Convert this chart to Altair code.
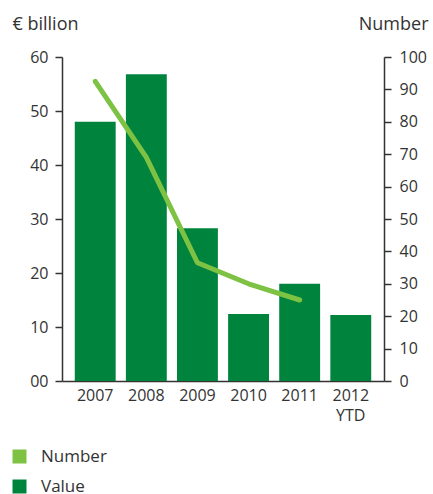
import altair as alt
import pandas as pd

years = ["2007", "2008", "2009", "2010", "2011", "2012 YTD"]
value_bn = [48.0, 56.8, 28.3, 12.4, 18.0, 12.2]
number = [92.5, 69.0, 36.5, 30.0, 25.0, None]

df = pd.DataFrame({"year": years, "value": value_bn, "number": number})
df["series"] = "Value"

DARK = "#00833D"
LIGHT = "#7DC243"
TXT = "#333333"
FONT = "Open Sans"

x_enc = alt.X(
    "year:N",
    sort=years,
    title=None,
    scale=alt.Scale(paddingInner=0.2, paddingOuter=0.25),
    axis=alt.Axis(
        labelAngle=0,
        labelExpr="split(datum.label, ' ')",
        ticks=False,
        domainColor=TXT,
        domainWidth=1.5,
        labelPadding=6,
        labelFontSize=16,
        labelLineHeight=20,
        labelColor=TXT,
        labelFont=FONT,
    ),
)

bars = alt.Chart(df).mark_bar(color=DARK).encode(
    x=x_enc,
    y=alt.Y(
        "value:Q",
        scale=alt.Scale(domain=[0, 60], nice=False),
        axis=alt.Axis(
            values=[0, 10, 20, 30, 40, 50, 60],
            labelExpr="datum.value == 0 ? '00' : datum.label",
            title="€ billion",
            titleAngle=0,
            titleAlign="left",
            titleBaseline="alphabetic",
            titleX=-50,
            titleY=-28,
            titleFontSize=18,
            titleFontWeight="normal",
            titleColor=TXT,
            titleFont=FONT,
            grid=False,
            domainColor=TXT,
            domainWidth=1.5,
            tickColor=TXT,
            tickWidth=1.5,
            tickSize=7,
            labelPadding=7,
            labelFontSize=16,
            labelColor=TXT,
            labelFont=FONT,
        ),
    ),
    color=alt.Color(
        "series:N",
        scale=alt.Scale(domain=["Number", "Value"], range=[LIGHT, DARK]),
        legend=alt.Legend(
            title=None,
            orient="none",
            legendX=-51,
            legendY=391,
            direction="vertical",
            symbolType="square",
            symbolSize=196,
            symbolStrokeWidth=0,
            labelFontSize=17,
            labelColor=TXT,
            labelFont=FONT,
            labelOffset=13,
            rowPadding=12,
            padding=0,
        ),
    ),
)

line = alt.Chart(df).mark_line(
    color=LIGHT, strokeWidth=5, strokeCap="round", strokeJoin="round"
).encode(
    x=alt.X("year:N", sort=years),
    y=alt.Y(
        "number:Q",
        scale=alt.Scale(domain=[0, 100], nice=False),
        axis=alt.Axis(
            orient="right",
            values=list(range(0, 101, 10)),
            title="Number",
            titleAngle=0,
            titleAlign="right",
            titleBaseline="alphabetic",
            titleX=44,
            titleY=-28,
            titleFontSize=18,
            titleFontWeight="normal",
            titleColor=TXT,
            titleFont=FONT,
            grid=False,
            domainColor=TXT,
            domainWidth=1.5,
            tickColor=TXT,
            tickWidth=1.5,
            tickSize=7,
            labelPadding=8,
            labelFontSize=16,
            labelColor=TXT,
            labelFont=FONT,
        ),
    ),
)

chart = (
    alt.layer(bars, line)
    .resolve_scale(y="independent")
    .properties(
        width=322,
        height=324,
        autosize=alt.AutoSizeParams(type="none"),
        padding={"left": 62, "top": 57, "right": 49, "bottom": 113},
    )
    .configure_view(strokeWidth=0)
)

chart.save("out.html", embed_options={"renderer": "svg", "actions": False})
